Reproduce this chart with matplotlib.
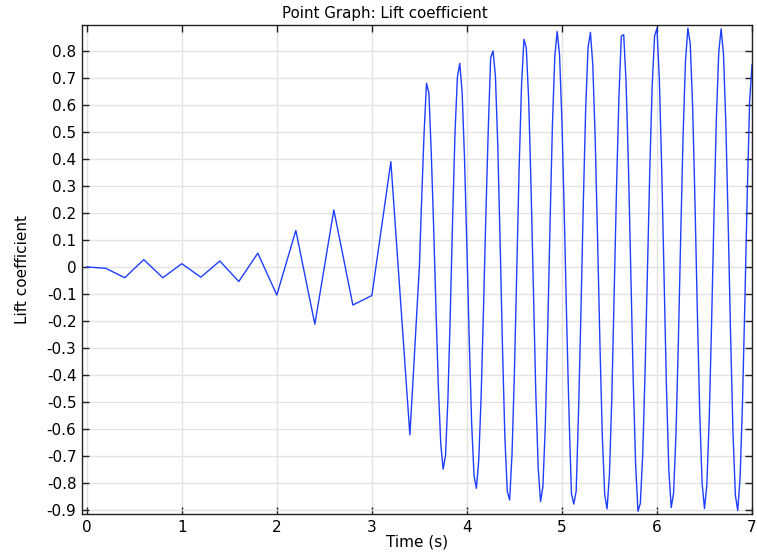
"""
Point Graph: Lift coefficient (COMSOL style)
"""
import matplotlib
matplotlib.use('Agg')
import matplotlib.pyplot as plt
from matplotlib.ticker import FuncFormatter, MultipleLocator
import numpy as np

plt.rcParams['font.family'] = 'DejaVu Sans'
plt.rcParams['axes.unicode_minus'] = False

# coarse output steps at the start of the run
t_early = [0.0, 0.2, 0.4, 0.6, 0.8, 1.0, 1.2, 1.4, 1.6, 1.8,
           2.0, 2.2, 2.4, 2.6, 2.8, 3.0, 3.2]
cl_early = [0.000, -0.005, -0.040, 0.027, -0.040, 0.012, -0.038, 0.022,
            -0.054, 0.051, -0.104, 0.135, -0.212, 0.211, -0.141, -0.106,
            0.390]

# finer output from t = 3.4 s on (step 0.025 s)
t_start, t_step = 3.4, 0.025
cl_late = [
    -0.622, -0.470, -0.310, -0.155, 0.000, 0.260, 0.500, 0.680,
    0.645, 0.424, 0.149, -0.161, -0.447, -0.656, -0.749, -0.698,
    -0.492, -0.175, 0.180, 0.497, 0.703, 0.754, 0.645, 0.402,
    0.073, -0.277, -0.579, -0.772, -0.820, -0.714, -0.477, -0.153,
    0.199, 0.510, 0.775, 0.800, 0.708, 0.451, 0.086, -0.305,
    -0.635, -0.831, -0.863, -0.692, -0.391, -0.010, 0.371, 0.672,
    0.843, 0.812, 0.620, 0.297, -0.093, -0.466, -0.743, -0.869,
    -0.813, -0.588, -0.239, 0.160, 0.526, 0.780, 0.872, 0.785,
    0.541, 0.191, -0.201, -0.551, -0.840, -0.878, -0.830, -0.534,
    -0.166, 0.236, 0.587, 0.813, 0.869, 0.747, 0.475, 0.105,
    -0.287, -0.626, -0.843, -0.896, -0.768, -0.483, -0.100, 0.300,
    0.631, 0.855, 0.860, 0.683, 0.372, -0.022, -0.416, -0.727,
    -0.905, -0.876, -0.696, -0.389, -0.011, 0.368, 0.675, 0.855,
    0.884, 0.695, 0.364, -0.047, -0.450, -0.754, -0.891, -0.838,
    -0.620, -0.279, 0.116, 0.488, 0.761, 0.884, 0.827, 0.597,
    0.241, -0.168, -0.541, -0.801, -0.895, -0.807, -0.560, -0.205,
    0.192, 0.547, 0.794, 0.882, 0.788, 0.527, 0.153, -0.257,
    -0.615, -0.845, -0.902, -0.778, -0.503, -0.128, 0.269, 0.613,
    0.748,
]
t_late = np.round(t_start + t_step * np.arange(len(cl_late)), 3)

t = np.concatenate([t_early, t_late])
cl = np.concatenate([cl_early, cl_late])

fig = plt.figure(figsize=(7.57, 5.56), dpi=100)
ax = fig.add_axes([82 / 757, 42 / 556, 670 / 757, 489 / 556])

ax.plot(t, cl, color='#1f3fff', linewidth=1.0)

ax.set_xlim(-0.05, 7.0)
ax.set_ylim(-0.915, 0.896)
ax.xaxis.set_major_locator(MultipleLocator(1))
ax.yaxis.set_major_locator(MultipleLocator(0.1))


def fmt(v, pos):
    if abs(v) < 1e-9:
        return '0'
    return f'{v:.1f}'


ax.yaxis.set_major_formatter(FuncFormatter(fmt))
ax.xaxis.set_major_formatter(FuncFormatter(lambda v, p: f'{v:.0f}'))

ax.grid(True, color='#e3e3e3', linewidth=1.0)
ax.set_axisbelow(True)
ax.tick_params(direction='in', length=5, width=1, top=True, right=True,
               labelsize=11, color='#222222', pad=4)
for s in ax.spines.values():
    s.set_color('#222222')
    s.set_linewidth(1.0)

# title sits centred on the figure rather than the axes
ax.set_title('Point Graph: Lift coefficient', fontsize=10.8, pad=5, x=0.452)
ax.set_xlabel('Time (s)', fontsize=11, labelpad=0)
ax.set_ylabel('Lift coefficient', fontsize=11, labelpad=12)

fig.savefig('out.png', dpi=100)
print("saved: out.png")
